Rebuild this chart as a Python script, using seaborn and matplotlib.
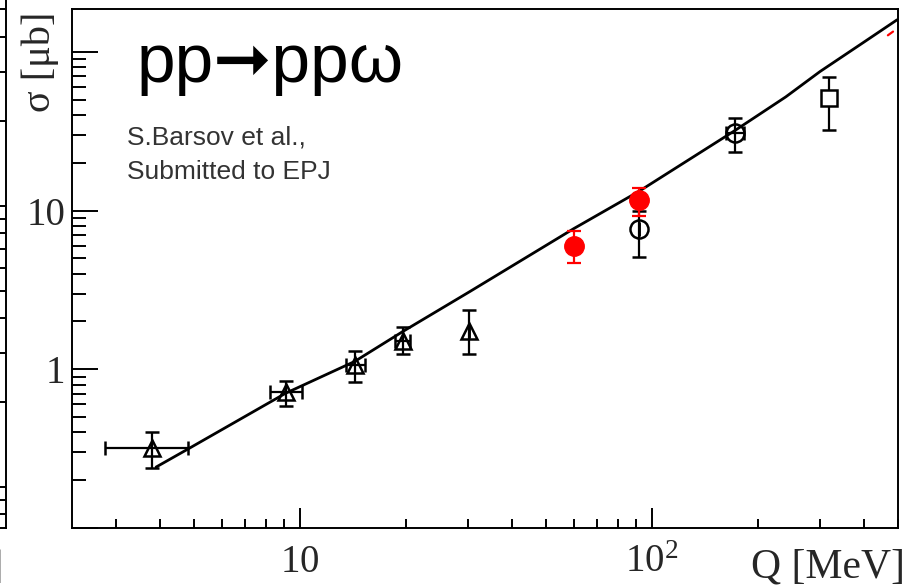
import numpy as np
import pandas as pd
import matplotlib
matplotlib.use('Agg')
import matplotlib.pyplot as plt
import seaborn as sns
from matplotlib.ticker import FixedLocator, LogLocator, NullFormatter

# ── datos (Q en MeV, sigma en microbarn) ──
tri_q    = [3.8, 9.1, 14.3, 19.6, 30.2]
tri_sig  = [0.32, 0.72, 1.07, 1.50, 1.73]
tri_lo   = [0.24, 0.59, 0.83, 1.24, 1.24]
tri_hi   = [0.40, 0.84, 1.30, 1.84, 2.35]
tri_qlo  = [2.8, 8.2, 13.5, 18.6, 30.2]
tri_qhi  = [4.8, 10.1, 15.3, 20.6, 30.2]

red_q    = [60.0, 92.0]
red_sig  = [6.0, 11.7]
red_lo   = [4.7, 9.3]
red_hi   = [7.4, 13.9]

circ_q   = [92.0, 172.0]
circ_sig = [7.7, 31.0]
circ_lo  = [5.1, 23.5]
circ_hi  = [9.9, 38.5]
circ_qlo = [92.0, 162.0]
circ_qhi = [92.0, 183.0]

sq_q     = [318.0]
sq_sig   = [51.0]
sq_lo    = [32.0]
sq_hi    = [69.0]

curve_q   = [3.9, 4.8, 9.1, 14.3, 19.6, 30.4, 60.0, 91.8, 172.0, 240.0, 300.0, 400.0, 497.0]
curve_sig = [0.242, 0.314, 0.706, 1.12, 1.73, 3.09, 7.70, 13.2, 31.9, 52.0, 75.0, 115.0, 159.0]

frag_q   = [468.0, 484.0]
frag_sig = [127.0, 134.0]

x_ticks  = [10, 100]
x_labels = ['$\\mathregular{10}$', '$\\mathregular{10^{2}}$']
y_ticks  = [0.1, 1, 10, 100]
y_labels = ['', '1', '10', '']

# ── estilo ──
sns.set_style('ticks')
plt.rcParams['font.family'] = ['Liberation Serif', 'DejaVu Serif']
plt.rcParams['mathtext.fontset'] = 'custom'
plt.rcParams['mathtext.rm'] = 'Liberation Serif'
plt.rcParams['axes.linewidth'] = 1.4
SANS = ['Liberation Sans', 'DejaVu Sans']
LW = 1.6

fig = plt.figure(figsize=(9.2, 5.87), dpi=100)
fig.patch.set_facecolor('white')
ax = fig.add_axes([72/920, 59/587, 826/920, 519/587])
ax.set_xscale('log'); ax.set_yscale('log')
ax.set_xlim(2.25, 500); ax.set_ylim(0.1, 186)

def asym(val, lo, hi):
    v = np.array(val); return [v - np.array(lo), np.array(hi) - v]

eb = dict(ls='none', ecolor='black', elinewidth=LW, capsize=4.7, capthick=LW)
ax.errorbar(tri_q, tri_sig, yerr=asym(tri_sig, tri_lo, tri_hi), xerr=asym(tri_q, tri_qlo, tri_qhi),
            marker='^', ms=11.5, mfc='none', mec='black', mew=1.8, zorder=2, **eb)
ax.errorbar(circ_q, circ_sig, yerr=asym(circ_sig, circ_lo, circ_hi), xerr=asym(circ_q, circ_qlo, circ_qhi),
            marker='o', ms=13, mfc='none', mec='black', mew=1.8, zorder=2, **eb)
ax.errorbar(sq_q, sq_sig, yerr=asym(sq_sig, sq_lo, sq_hi),
            marker='s', ms=12, mfc='white', mec='black', mew=1.8, zorder=2, **eb)

sns.lineplot(x=curve_q, y=curve_sig, ax=ax, color='black', lw=2.0, sort=False,
             estimator=None, zorder=3)
sns.lineplot(x=frag_q, y=frag_sig, ax=ax, color='red', lw=1.6, sort=False,
             estimator=None, zorder=3)

ax.errorbar(red_q, red_sig, yerr=asym(red_sig, red_lo, red_hi), ls='none',
            marker='o', ms=14, mfc='red', mec='red', ecolor='red',
            elinewidth=LW, capsize=4.7, capthick=LW, zorder=4)

# ── ejes ──
ax.xaxis.set_major_locator(FixedLocator(x_ticks))
ax.xaxis.set_minor_locator(LogLocator(base=10, subs=np.arange(2, 10)))
ax.xaxis.set_minor_formatter(NullFormatter())
ax.set_xticklabels(x_labels)
ax.yaxis.set_major_locator(FixedLocator(y_ticks))
ax.yaxis.set_minor_locator(LogLocator(base=10, subs=np.arange(2, 10)))
ax.yaxis.set_minor_formatter(NullFormatter())
ax.set_yticklabels(y_labels)

ax.tick_params(which='both', direction='in', top=False, right=False, color='black', width=1.4)
ax.tick_params(axis='x', which='major', length=14.4, pad=31.5, labelsize=28)
ax.tick_params(axis='x', which='minor', length=6.5)
ax.tick_params(axis='y', which='major', length=18.7, pad=5, labelsize=28)
ax.tick_params(axis='y', which='minor', length=10)
plt.setp(ax.get_xticklabels(), va='baseline')
for sp in ax.spines.values(): sp.set_color('black'); sp.set_linewidth(1.4)

ax.set_xlabel('Q [MeV]', fontsize=30, loc='right', va='baseline')
ax.xaxis.set_label_coords(1.0085, -0.0963)
ax.set_ylabel('σ [μb]', fontsize=29, loc='top')
ax.yaxis.set_label_coords(-0.016, 0.995)

ax.text(0.0787, 0.859, 'pp➞ppω', transform=ax.transAxes, fontsize=50,
        family=SANS, va='baseline', ha='left', color='black')
ax.text(0.0666, 0.738, 'S.Barsov et al.,', transform=ax.transAxes, fontsize=19,
        family=SANS, va='baseline', color='#333333')
ax.text(0.0666, 0.672, 'Submitted to EPJ', transform=ax.transAxes, fontsize=19,
        family=SANS, va='baseline', color='#333333')

# ── fragmento del panel vecino (borde izquierdo recortado) ──
ax0 = fig.add_axes([-0.2, 59/587, 0.2 + 6/920, 528/587])
ax0.set_yscale('log'); ax0.set_ylim(0.715, 54); ax0.set_xlim(0, 1)
sns.despine(ax=ax0, left=True, top=True, right=False, bottom=False)
ax0.yaxis.tick_right()
ax0.yaxis.set_minor_formatter(NullFormatter())
ax0.tick_params(which='both', direction='in', labelright=False, labelleft=False,
                left=False, width=1.4, color='black')
ax0.tick_params(which='major', length=18.7); ax0.tick_params(which='minor', length=10)
ax0.set_xticks([])
for sp in ax0.spines.values(): sp.set_color('black'); sp.set_linewidth(1.4)
fig.text(3/920, 1 - 578/587, ']', ha='right', va='baseline', fontsize=29)

fig.savefig('out.png', dpi=100, facecolor='white')
